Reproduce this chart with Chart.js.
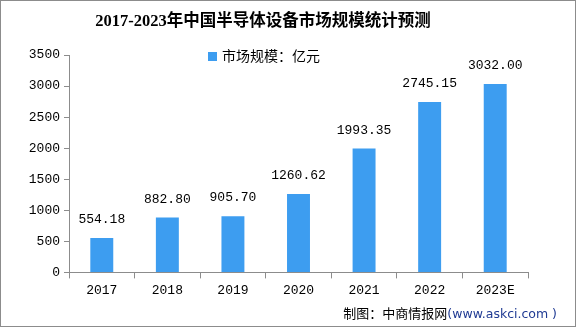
<!DOCTYPE html>
<html>
<head>
<meta charset="utf-8">
<script src="https://cdn.jsdelivr.net/npm/chart.js@4"></script>
<style>
  html, body { margin: 0; padding: 0; background: #fff; }
  #wrap { position: relative; width: 574px; height: 325px; border: 1px solid #8c8c8c; }
  #title { position: absolute; left: 0; width: 524px; top: 6px; text-align: center;
           font: bold 16.5px "Liberation Serif", "Noto Sans CJK SC", serif; color: #000; }
  #legend { position: absolute; left: 207px; top: 44px; font: 14px "Noto Sans CJK SC", sans-serif; color: #000; }
  #legend i { display: inline-block; width: 9px; height: 9px; background: #3d9df0; margin-right: 5px; vertical-align: 0px; }
  #footer { position: absolute; right: 18px; top: 302px; font: 13px "Noto Sans CJK SC", sans-serif; color: #000; }
  #footer span { color: #1f3a93; font-family: "DejaVu Sans", sans-serif; font-size: 12.5px; }
</style>
</head>
<body>
<div id="wrap">
  <canvas id="marketChart" width="574" height="325"></canvas>
  <div id="title">2017-2023年中国半导体设备市场规模统计预测</div>
  <div id="legend"><i></i>市场规模：亿元</div>
  <div id="footer">制图：中商情报网<span>(www.askci.com )</span></div>
</div>
<script>
// 中国半导体设备市场规模（亿元）
const years = ['2017', '2018', '2019', '2020', '2021', '2022', '2023E'];
const marketSize = [554.18, 882.80, 905.70, 1260.62, 1993.35, 2745.15, 3032.00];
const yTicks = [0, 500, 1000, 1500, 2000, 2500, 3000, 3500];

const labelFont = '13px "Liberation Mono", "DejaVu Sans Mono", monospace';

// value labels above each bar
const valueLabels = {
    id: 'valueLabels',
    afterDatasetsDraw(chart) {
        const ctx = chart.ctx;
        const meta = chart.getDatasetMeta(0);
        ctx.save();
        ctx.font = labelFont;
        ctx.fillStyle = '#000';
        ctx.textAlign = 'center';
        ctx.textBaseline = 'bottom';
        meta.data.forEach((bar, i) => {
            ctx.fillText(marketSize[i].toFixed(2), bar.x, bar.y - 12);
        });
        ctx.restore();
    }
};

const ctx = document.getElementById('marketChart').getContext('2d');
const marketChart = new Chart(ctx, {
    type: 'bar',
    data: {
        labels: years,
        datasets: [{
            label: '市场规模：亿元',
            data: marketSize,
            backgroundColor: '#3d9df0',
            categoryPercentage: 1,
            barPercentage: 0.35
        }]
    },
    options: {
        responsive: false,
        animation: false,
        layout: { padding: { left: 0, right: 47, top: 54, bottom: 24 } },
        plugins: {
            title: { display: false },
            legend: { display: false },
            tooltip: { enabled: false }
        },
        scales: {
            x: {
                grid: { offset: true, drawOnChartArea: false, drawTicks: true, tickLength: 6, color: '#8c8c8c' },
                border: { color: '#8c8c8c' },
                ticks: { color: '#000', font: { family: '"Liberation Mono", monospace', size: 13 }, padding: 4 }
            },
            y: {
                min: 0,
                max: 3500,
                afterBuildTicks(axis) { axis.ticks = yTicks.map(v => ({ value: v })); },
                afterFit(axis) { axis.width = 68; },
                grid: { drawOnChartArea: false, drawTicks: true, tickLength: 5, color: '#8c8c8c' },
                border: { color: '#8c8c8c' },
                ticks: {
                    color: '#000',
                    font: { family: '"Liberation Mono", monospace', size: 13 },
                    padding: 4,
                    callback: v => String(v)
                }
            }
        }
    },
    plugins: [valueLabels]
});
</script>
</body>
</html>
